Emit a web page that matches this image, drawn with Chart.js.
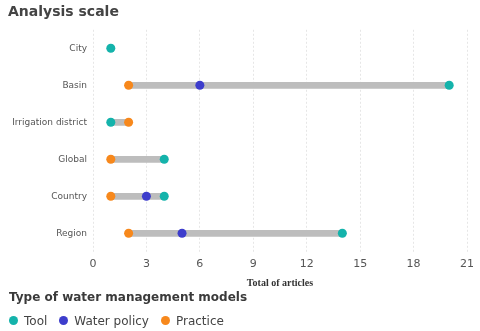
<!DOCTYPE html>
<html>
<head>
<meta charset="utf-8">
<script src="https://cdn.jsdelivr.net/npm/chart.js@4"></script>
<style>
  html, body { margin: 0; padding: 0; background: #fff; }
  #wrap { position: relative; width: 480px; height: 331px; }
  #legend { position: absolute; left: 9px; top: 289px; font-family: 'DejaVu Sans'; color: #444; }
  #legend .lt { font-size: 12px; font-weight: bold; line-height: 16px; color: #3a3a3a; }
  #legend .items { margin-top: 8px; font-size: 12px; line-height: 16px; white-space: nowrap; }
  #legend .item { display: inline-block; margin-right: 12px; }
  #legend .dot { display: inline-block; width: 9px; height: 9px; border-radius: 50%; margin-right: 6px; vertical-align: 0px; }
</style>
</head>
<body>
<div id="wrap">
  <canvas id="myChart"></canvas>
  <div id="legend">
    <div class="lt">Type of water management models</div>
    <div class="items" id="legendItems"></div>
  </div>
</div>
<script>
// categories and values
var scales = ['City', 'Basin', 'Irrigation district', 'Global', 'Country', 'Region'];
var tool = [1, 20, 1, 4, 4, 14];
var waterPolicy = [null, 6, null, null, 3, 5];
var practice = [null, 2, 2, 1, 1, 2];
var xTicks = [0, 3, 6, 9, 12, 15, 18, 21];

// range from the smallest to the largest value of each row
var ranges = scales.map(function (s, i) {
    var vals = [tool[i], waterPolicy[i], practice[i]].filter(function (v) { return v !== null; });
    return [Math.min.apply(null, vals), Math.max.apply(null, vals)];
});

function dots(label, data, color) {
    return {
        type: 'line',
        label: label,
        data: data,
        showLine: false,
        pointRadius: 4.5,
        pointHoverRadius: 5,
        pointBorderWidth: 0,
        pointBackgroundColor: color,
        borderColor: color,
        backgroundColor: color
    };
}

var ctx = document.getElementById('myChart').getContext('2d');
var myChart = new Chart(ctx, {
    data: {
        labels: scales,
        datasets: [
            dots('Tool', tool, '#14b3ab'),
            dots('Water policy', waterPolicy, '#3d3dcc'),
            dots('Practice', practice, '#f7881c'),
            {
                type: 'bar',
                label: 'range',
                data: ranges,
                backgroundColor: '#bdbdbd',
                barThickness: 6,
                borderSkipped: false
            }
        ]
    },
    options: {
        indexAxis: 'y',
        responsive: true,
        maintainAspectRatio: false,
        animation: false,
        layout: { padding: { left: 8, right: 8, top: 0, bottom: 42 } },
        scales: {
            x: {
                type: 'linear',
                min: 0,
                max: 21,
                afterBuildTicks: function (axis) {
                    axis.ticks = xTicks.map(function (v) { return { value: v }; });
                },
                grid: { color: '#e6e6e6', borderDash: [2, 2], drawTicks: false },
                border: { display: false, dash: [2, 2] },
                ticks: { color: '#555', font: { family: 'DejaVu Sans', size: 11 }, padding: 6 },
                title: {
                    display: true,
                    text: 'Total of articles',
                    color: '#333',
                    font: { family: 'Liberation Serif', size: 10, weight: 'bold' },
                    padding: { top: 0, bottom: 0 }
                }
            },
            y: {
                type: 'category',
                offset: true,
                grid: { display: false, drawTicks: false },
                border: { display: false },
                ticks: { color: '#555', font: { family: 'DejaVu Sans', size: 9 }, padding: 6 },
                afterFit: function (axis) { axis.width = 85; }
            }
        },
        plugins: {
            title: {
                display: true,
                text: 'Analysis scale',
                align: 'start',
                color: '#444',
                font: { family: 'DejaVu Sans', size: 14, weight: 'bold' },
                padding: { top: 4, bottom: 9 }
            },
            legend: { display: false },
            tooltip: { enabled: false }
        }
    }
});

// legend built from the point datasets
var legendItems = document.getElementById('legendItems');
myChart.data.datasets.forEach(function (ds) {
    if (ds.label === 'range') return;
    var item = document.createElement('span');
    item.className = 'item';
    var dot = document.createElement('span');
    dot.className = 'dot';
    dot.style.background = ds.pointBackgroundColor;
    item.appendChild(dot);
    item.appendChild(document.createTextNode(ds.label));
    legendItems.appendChild(item);
});
</script>
</body>
</html>
